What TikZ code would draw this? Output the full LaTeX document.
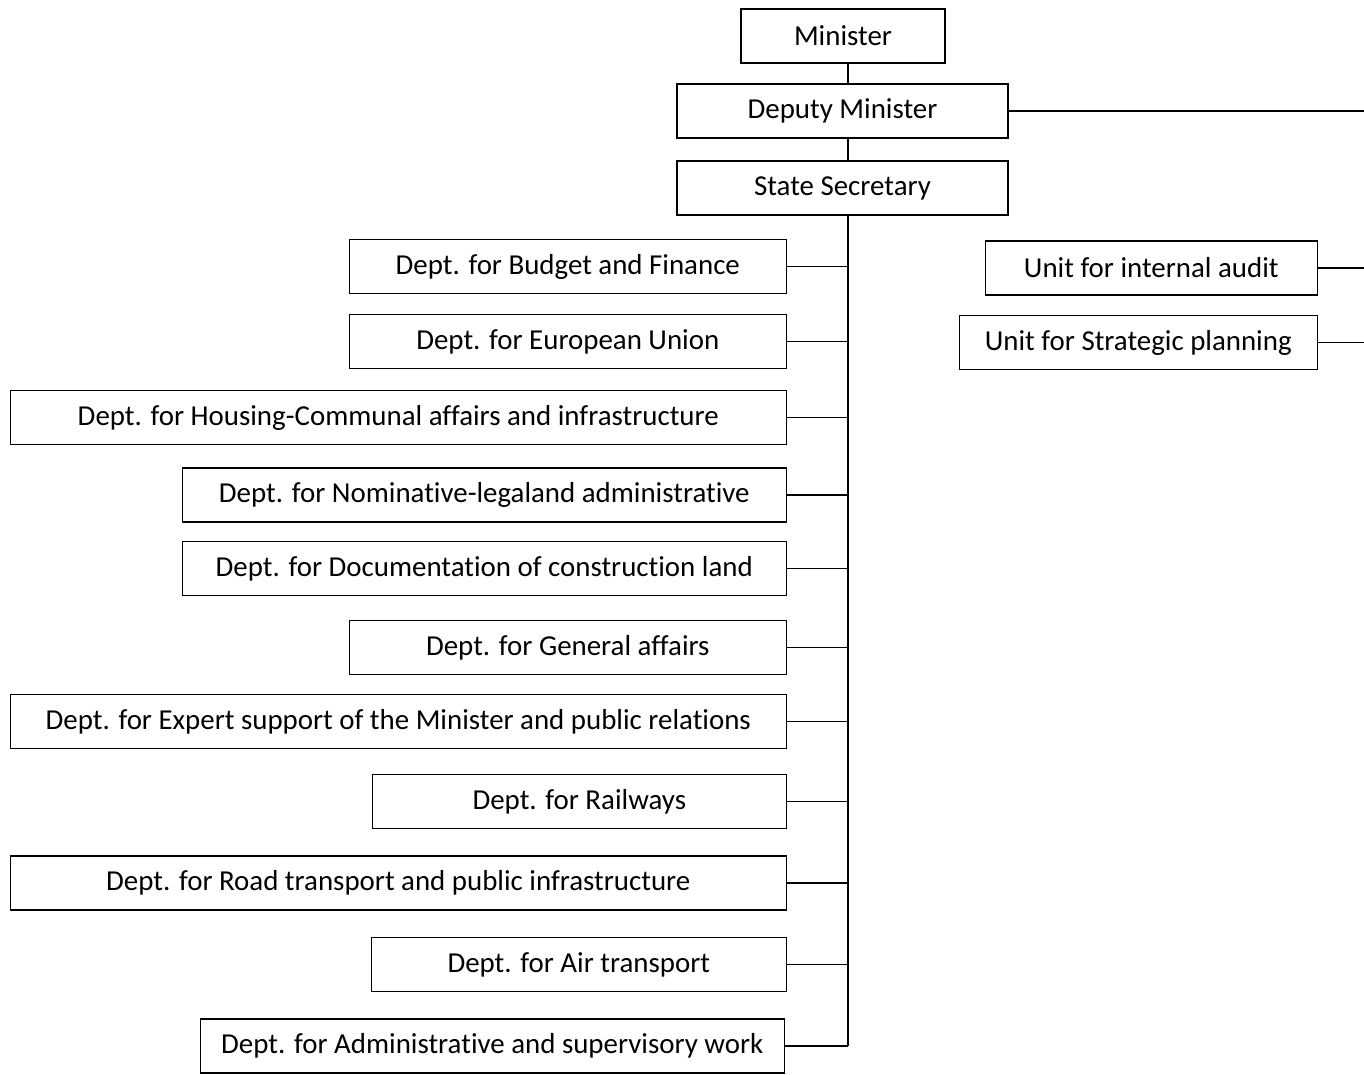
\documentclass[tikz,border=0pt]{standalone}
\usepackage{fontspec}
\setmainfont[Ligatures=NoCommon]{Carlito}
\usetikzlibrary{positioning,calc}

\begin{document}
\begin{tikzpicture}[x=1pt,y=-1pt,
		box/.style={draw,line width=1.4pt,minimum height=54pt,inner sep=0pt,
			font=\fontsize{28.9}{34}\selectfont},
		link/.style={line width=1.4pt}]
	\useasboundingbox (0,0) rectangle (1364,1074);
	% top of the chart
	\node[box,minimum width=204pt] (min) at (843,36) {Minister};
	\node[box,minimum width=331pt] (dep) at (842.5,111) {Deputy Minister};
	\node[box,minimum width=331pt] (sec) at (842.5,188) {State Secretary};
	\coordinate (trunk) at (848,1046);
	\coordinate (edge) at (1366,111);
	% departments
	\node[box,minimum width=437pt,anchor=east] (d1) at (787,266.5) {Dept. for Budget and Finance};
	\node[box,minimum width=437pt,anchor=east] (d2) at (787,341.5) {Dept. for European Union};
	\node[box,minimum width=776pt,anchor=east] (d3) at (787,417.5) {Dept. for Housing-Communal affairs and infrastructure};
	\node[box,minimum width=604pt,anchor=east] (d4) at (787,495) {Dept. for Nominative-legaland administrative};
	\node[box,minimum width=604pt,anchor=east] (d5) at (787,568.5) {Dept. for Documentation of construction land};
	\node[box,minimum width=437pt,anchor=east] (d6) at (787,647.5) {Dept. for General affairs};
	\node[box,minimum width=776pt,anchor=east] (d7) at (787,721.5) {Dept. for Expert support of the Minister and public relations};
	\node[box,minimum width=414pt,anchor=east] (d8) at (787,801.5) {Dept. for Railways};
	\node[box,minimum width=776pt,anchor=east] (d9) at (787,883) {Dept. for Road transport and public infrastructure};
	\node[box,minimum width=415pt,anchor=east] (d10) at (787,964.5) {Dept. for Air transport};
	\node[box,minimum width=584pt,anchor=east] (d11) at (785,1046) {Dept. for Administrative and supervisory work};
	% units
	\node[box,minimum width=332pt,anchor=east] (u1) at (1318,268) {Unit for internal audit};
	\node[box,minimum width=358pt,anchor=east] (u2) at (1318,342.5) {Unit for Strategic planning};
	% lines
	\draw[link] (min.south -| trunk) -- (dep.north -| trunk);
	\draw[link] (dep.south -| trunk) -- (sec.north -| trunk);
	\draw[link] (sec.south -| trunk) -- (trunk);
	\foreach \d in {d1,d2,d3,d4,d5,d6,d7,d8,d9,d10,d11}
		\draw[link] (\d.east) -- (\d.east -| trunk);
	\draw[link] (dep.east) -- (edge);
	\draw[link] (u1.east) -- (u1.east -| edge);
	\draw[link] (u2.east) -- (u2.east -| edge);
\end{tikzpicture}
\end{document}
